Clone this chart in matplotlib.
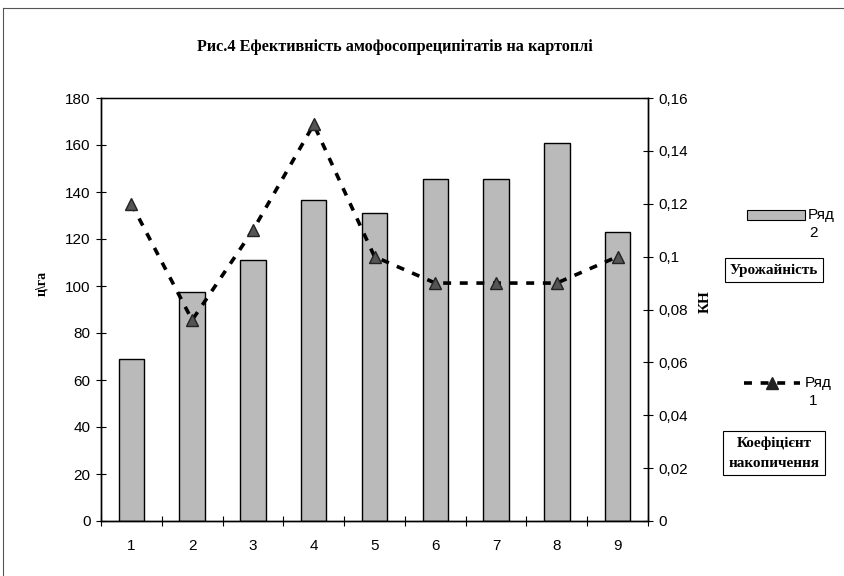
import numpy as np
import matplotlib
matplotlib.use('Agg')
import matplotlib.pyplot as plt
from matplotlib.lines import Line2D
from matplotlib.patches import Rectangle
from matplotlib.ticker import FixedLocator, FuncFormatter

# Дані
categories = [1, 2, 3, 4, 5, 6, 7, 8, 9]
urozhainist = [69, 97.5, 111, 136.5, 131, 145.5, 145.5, 161, 123]      # Ряд 2, ц/га
koef_nakop = [0.12, 0.076, 0.11, 0.15, 0.10, 0.09, 0.09, 0.09, 0.10]   # Ряд 1, КН
left_ticks = [0, 20, 40, 60, 80, 100, 120, 140, 160, 180]
right_ticks = [0, 0.02, 0.04, 0.06, 0.08, 0.1, 0.12, 0.14, 0.16]

W, H = 844, 576
serif = ['Liberation Serif', 'DejaVu Serif']
sans = ['Liberation Sans', 'DejaVu Sans']
plt.rcParams['font.family'] = sans
dash = (0, (2.2, 2.4))


def fx(x):
    return x / W


def fy(y):
    return 1 - y / H


fig = plt.figure(figsize=(8.44, 5.76), dpi=100)
ax = fig.add_axes([fx(101), fy(521), fx(648) - fx(101), fy(98) - fy(521)])
ax2 = ax.twinx()

x = np.arange(len(categories))
ax.bar(x, urozhainist, width=0.42, color='#bababa', edgecolor='black', linewidth=1.0, zorder=2)
ax.set_xlim(-0.5, len(categories) - 0.5)
ax.set_ylim(0, 180)
ax.set_yticks(left_ticks)
ax.set_xticks(x)
ax.set_xticklabels([str(c) for c in categories])
ax.xaxis.set_minor_locator(FixedLocator(np.arange(-0.5, len(categories), 1.0)))
ax.tick_params(axis='x', which='major', length=0, pad=13, labelsize=11)
ax.tick_params(axis='x', which='minor', length=7, direction='inout', width=0.8)
ax.tick_params(axis='y', length=7, direction='inout', width=0.8, labelsize=11, pad=4)

ax2.plot(x, koef_nakop, linestyle=dash, color='black', linewidth=2.6,
         marker='^', markersize=8, markerfacecolor='#555555', markeredgecolor='#222222', zorder=3)
ax2.set_ylim(0, 0.16)
ax2.set_yticks(right_ticks)
ax2.yaxis.set_major_formatter(FuncFormatter(lambda v, p: ('%g' % round(v, 3)).replace('.', ',')))
ax2.tick_params(axis='y', length=7, direction='inout', width=0.8, labelsize=11, pad=4)

for a in (ax, ax2):
    for s in a.spines.values():
        s.set_linewidth(1.0)
ax.spines['top'].set_linewidth(0.8)

fig.text(fx(395), fy(47), 'Рис.4 Ефективність амофосопреципітатів на картоплі',
         family=serif, fontweight='bold', fontsize=11.7, ha='center', va='center')
fig.text(fx(42), fy(283), 'ц\\га', family=serif, fontweight='bold', fontsize=10,
         rotation=90, ha='center', va='center')
fig.text(fx(705), fy(302), 'КН', family=serif, fontweight='bold', fontsize=11,
         rotation=90, ha='center', va='center')

# Легенда, намальована вручну
fig.patches.append(Rectangle((fx(747), fy(220)), fx(805) - fx(747), fy(210) - fy(220),
                             transform=fig.transFigure, facecolor='#bababa',
                             edgecolor='black', linewidth=0.8))
fig.text(fx(808), fy(215), 'Ряд', fontsize=11, ha='left', va='center')
fig.text(fx(813), fy(233), '2', fontsize=11, ha='center', va='center')
fig.lines.append(Line2D([fx(744), fx(800)], [fy(383), fy(383)], transform=fig.transFigure,
                        color='black', linewidth=2.6, linestyle=dash))
fig.lines.append(Line2D([fx(772)], [fy(383)], transform=fig.transFigure, marker='^',
                        markersize=8, color='#222222', linestyle='none'))
fig.text(fx(805), fy(383), 'Ряд', fontsize=11, ha='left', va='center')
fig.text(fx(813), fy(401), '1', fontsize=11, ha='center', va='center')

box = dict(boxstyle='square,pad=0.35', facecolor='white', edgecolor='black', linewidth=0.8)
fig.text(fx(774), fy(270), 'Урожайність', family=serif, fontweight='bold', fontsize=11,
         ha='center', va='center', bbox=box)
fig.text(fx(774), fy(453), 'Коефіцієнт\nнакопичення', family=serif, fontweight='bold', fontsize=11,
         ha='center', va='center', linespacing=1.7, bbox=box)

# Рамка області діаграми
fig.lines.append(Line2D([fx(3), fx(844)], [fy(8), fy(8)], transform=fig.transFigure,
                        color='#555555', linewidth=0.8))
fig.lines.append(Line2D([fx(3), fx(3)], [fy(8), fy(576)], transform=fig.transFigure,
                        color='#555555', linewidth=0.8))

fig.savefig('out.png', dpi=100)
